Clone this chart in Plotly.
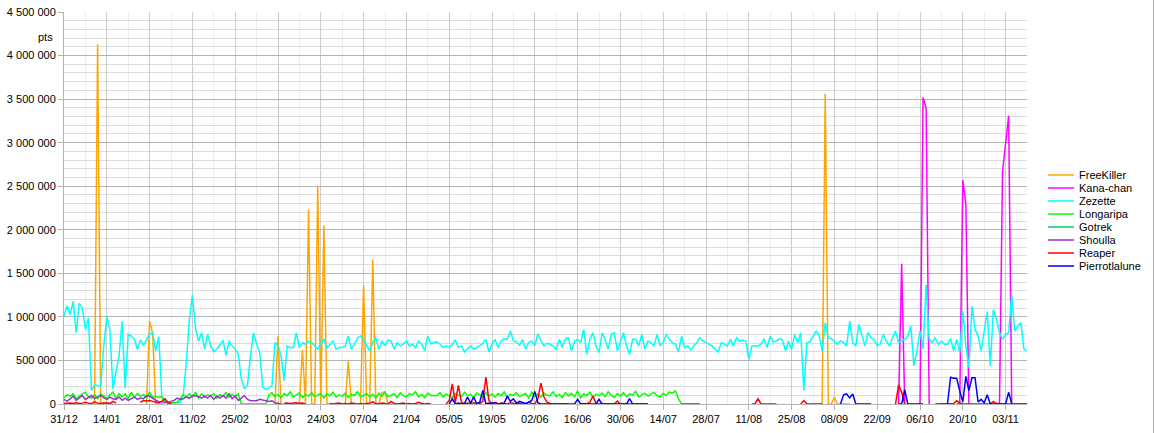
import pandas as pd
import plotly.graph_objects as go

START = "2019-12-31"
END = "2020-11-10"
dates = pd.date_range(START, END, freq="D")
N = len(dates)

SERIES_NAMES = ["FreeKiller", "Kana-chan", "Zezette", "Longaripa", "Gotrek",
                "Shoulla", "Reaper", "Pierrotlalune"]
SERIES_COLORS = ["#ffa500", "#ff00ff", "#00ffff", "#00ff00", "#00cc66",
                 "#9933cc", "#ff0000", "#0000ff"]

# values in thousands of points; (first date, daily values)
FREEKILLER = [
    ("2020-01-10", [0, 4130, 0, 10, 0, 5, 0]),
    ("2020-01-27", [0, 950, 810, 0, 0, 0, 0]),
    ("2020-03-09", [0, 780, 0, 0, 0, 0, 0, 0, 0, 620, 0, 2230, 0, 0, 2500, 0, 2050, 0,
                    0, 0, 0, 0, 0, 0, 495, 0, 0, 0, 0, 1360, 0, 0, 1660, 0, 0, 130, 140,
                    0, 0, 0, 0, 0]),
    ("2020-09-03", [0, 0, 3560, 0, 0, 80, 0, 0, 0, 0, 0]),
]
KANA_CHAN = [
    ("2020-09-29", [0, 1610, 0]),
    ("2020-10-06", [0, 3520, 3400, 0]),
    ("2020-10-19", [0, 2570, 2290, 0]),
    ("2020-11-01", [0, 2670, 2990, 3310, 0]),
]
ZEZETTE = [("2019-12-31", [
    1008, 1129, 1027, 1178, 818, 1159, 1100, 856, 989, 155, 220, 212, 205, 667, 1000, 856,
    174, 364, 553, 950, 182, 800, 780, 742, 629, 735, 674, 742, 800, 818, 610, 773, 80, 40,
    20, 20, 15, 15, 20, 100, 477, 970, 1254, 875, 723, 818, 629, 800, 667, 598, 629,
    686, 731, 561, 723, 667, 629, 572, 288, 174, 212, 553, 818, 686, 591, 193, 167, 182,
    205, 705, 667, 553, 269, 667, 648, 648, 818, 648, 705, 686, 723, 705, 667, 629, 705,
    742, 648, 686, 723, 629, 648, 648, 667, 780, 629, 686, 761, 780, 742, 667, 610, 705, 761,
    629, 723, 667, 735, 723, 629, 705, 667, 686, 723, 667, 686, 648, 723, 686, 610, 780, 690,
    705, 712, 686, 648, 667, 648, 686, 735, 648, 667, 598, 629, 667, 629, 648, 667, 697,
    742, 598, 686, 742, 648, 723, 750, 742, 837, 723, 712, 674, 742, 629, 705, 723, 667, 807,
    723, 667, 697, 686, 667, 629, 742, 648, 750, 761, 610, 723, 742, 705, 856, 572, 742,
    818, 667, 591, 818, 742, 629, 799, 818, 610, 705, 818, 667, 572, 742, 742, 667, 799,
    629, 723, 705, 667, 799, 674, 705, 799, 742, 705, 686, 598, 780, 648, 667, 621, 667, 705, 761,
    723, 705, 686, 667, 629, 598, 705, 686, 667, 742, 667, 761, 723, 735, 723, 515, 667,
    667, 667, 686, 750, 648, 780, 712, 723, 750, 735, 610, 723, 629, 799, 705, 818, 155,
    705, 712, 780, 837, 788, 610, 932, 761, 750, 723, 686, 723, 705, 667, 951, 705,
    667, 913, 780, 667, 818, 761, 742, 667, 690, 799, 723, 667, 761, 837, 705, 723, 742,
    780, 894, 439, 610, 837, 629, 1367, 742, 705, 761, 686, 723, 686, 686, 750, 610, 742,
    591, 1064, 667, 420, 1121, 856, 780, 610, 818, 1064, 439, 1083, 970, 818, 742, 799,
    818, 1250, 837, 894, 932, 629, 610])]
LONGARIPA = [("2019-12-31", [
    68, 106, 91, 117, 61, 91, 117, 136, 80, 68, 106, 61, 117, 91, 53, 106, 136, 61, 117,
    80, 117, 61, 136, 80, 117, 91, 106, 68, 136, 80, 80, 80, 80, 23, 10, 10, 15, 20, 61,
    106, 80, 117, 80, 136, 68, 117, 80, 106, 91, 117, 68, 106, 91, 130, 75, 110, 85, 117,
    0, 0, 0, 0, 0, 0, 0, 0, 0,
    100, 130, 85, 110, 70, 120, 95, 140, 80, 105, 125, 75, 110, 90, 130, 85, 100, 120, 70,
    115, 95, 135, 80, 105, 90, 125, 75, 110, 100, 140, 85, 95, 120, 80,
    110, 70, 125, 90, 135, 85, 100, 115, 75, 130, 95, 80, 120, 105, 140, 85, 110, 75, 125, 100,
    95, 100, 130, 80, 115, 90, 70, 120, 105, 85, 135, 95, 110, 75, 125, 100, 85, 130, 90, 115, 80,
    120, 95, 140, 75, 110, 100, 130, 85, 105, 120, 70, 135, 90, 115, 80, 125, 100, 95, 140,
    85, 110, 75, 130, 95, 120, 85, 150, 70, 115, 100, 135, 80, 110, 95, 125, 85, 140, 100,
    75, 120, 90, 130, 85, 115, 100, 145, 80, 105, 125, 90, 110, 135, 95, 80, 120, 100, 140,
    125, 150, 60, 0])]
GOTREK = [("2020-10-18", [0, 15, 0])]
SHOULLA = [("2019-12-31", [
    53, 30, 61, 91, 42, 68, 98, 53, 80, 98, 61, 80, 98, 72, 53, 80, 61, 53, 80, 42, 68, 42,
    61, 80, 53, 68, 61, 98, 91, 61, 42, 30, 23, 15, 15, 30, 42, 68, 53, 61, 80, 68, 91, 98,
    85, 70, 91, 68, 98, 53, 91, 68, 98, 68, 117, 61, 91, 42, 68, 98, 53, 38, 38, 38, 53, 45,
    38, 30, 38, 15, 8, 0])]
REAPER = [
    ("2019-12-31", [10, 5, 10, 5, 15, 5, 10, 20, 10, 5, 25, 10, 5, 10, 15, 5, 30, 10]),
    ("2020-01-25", [20, 40, 35, 40, 30, 20, 15, 30, 60, 20, 5]),
    ("2020-03-12", [5, 10, 5, 10, 15, 5, 10, 0]),
    ("2020-03-27", [5, 0, 5, 10, 0, 5, 0, 10, 5, 0, 5, 0, 5, 10, 25, 5, 0, 10, 5, 0, 30, 5,
                    0, 5, 10, 0, 5, 0, 5, 20, 5, 0, 5, 0]),
    ("2020-05-04", [0, 40, 230, 20, 215, 20, 0, 10, 5, 15, 0, 5, 30, 310, 40, 5, 20, 0, 10,
                    5, 0, 15, 5, 0, 10, 5, 0, 20, 5, 0, 60, 240, 80, 20, 5, 0, 0, 5, 0, 0, 0]),
    ("2020-06-17", [0, 5, 0, 20, 90, 10, 0, 5, 0, 0, 5, 0, 35, 0, 0, 5, 0, 0, 0, 5, 0, 0, 0]),
    ("2020-07-20", [0, 0, 0, 0, 0, 0, 0]),
    ("2020-08-12", [0, 0, 60, 0, 0, 0, 0, 0, 0]),
    ("2020-08-28", [0, 40, 0, 0, 0, 0, 0, 0]),
    ("2020-09-28", [0, 220, 135, 0]),
    ("2020-10-11", [0, 0, 0, 0, 0, 0, 5, 38, 10, 0, 0, 0, 5, 0, 0, 0, 5, 0, 0, 30, 5, 0, 0,
                    0, 0, 0]),
]
PIERROTLALUNE = [
    ("2020-05-05", [0, 60, 0, 10, 0, 5, 80, 10, 80, 5, 20, 155, 0, 10, 5, 15, 0, 5, 10, 90,
                    30, 60, 10, 30, 15, 5, 20, 40, 145, 15, 0, 0, 0, 0, 0, 0, 0, 0, 0, 0, 0,
                    0, 53, 0, 0, 0, 0, 0, 0, 53, 0, 0, 0, 0, 0, 0, 0, 0, 0, 61, 0, 0, 0, 0, 0, 0]),
    ("2020-09-10", [0, 105, 115, 70, 115, 0, 0, 0, 0, 0, 0]),
    ("2020-09-29", [0, 0, 165, 0, 0, 0, 0, 0, 0]),
    ("2020-10-15", [0, 307, 295, 295, 150, 23, 318, 155, 300, 300, 23, 53, 15, 106, 0, 0, 0,
                    0, 0, 0, 136, 0, 0, 0, 0, 0, 0]),
]
ALL_SERIES = [FREEKILLER, KANA_CHAN, ZEZETTE, LONGARIPA, GOTREK, SHOULLA, REAPER, PIERROTLALUNE]


def build(segments):
    arr = [None] * N
    for start, vals in segments:
        i0 = (pd.Timestamp(start) - dates[0]).days
        for k, v in enumerate(vals):
            if 0 <= i0 + k < N:
                arr[i0 + k] = v * 1000
    return arr


FONT = "Liberation Sans, Arial, sans-serif"
W, H = 1155, 433
ML, MR, MT, MB = 64, 128, 12, 29
PW, PH = W - ML - MR, H - MT - MB

fig = go.Figure()
for name, color, segs in zip(SERIES_NAMES, SERIES_COLORS, ALL_SERIES):
    fig.add_trace(go.Scatter(x=dates, y=build(segs), name=name, mode="lines",
                             line=dict(color=color, width=1.5), connectgaps=False,
                             showlegend=False))

DAY = 86400000
fig.update_xaxes(type="date", range=[dates[0], dates[-1]], tick0=START, dtick=14 * DAY,
                 tickformat="%d/%m", showgrid=True, gridcolor="#cccccc", gridwidth=1,
                 minor=dict(dtick=7 * DAY, tick0=START, showgrid=True, gridcolor="#ececec"),
                 showline=True, linecolor="#b3b3b3", ticks="outside", ticklen=5,
                 tickcolor="#b3b3b3", zeroline=False, automargin=False,
                 tickfont=dict(family=FONT, size=11, color="#000000"))
fig.update_yaxes(range=[0, 4500000], dtick=500000, tick0=0, tickformat=",d",
                 showgrid=True, gridcolor="#b3b3b3", gridwidth=1,
                 minor=dict(dtick=100000, showgrid=True, gridcolor="#dddddd"),
                 showline=True, linecolor="#b3b3b3", ticks="outside", ticklen=5,
                 tickcolor="#b3b3b3", zeroline=False, automargin=False,
                 tickfont=dict(family=FONT, size=11, color="#000000"))

annotations = [dict(text="pts", xref="paper", yref="paper", x=(55 - ML) / PW,
                    y=(H - MB - 37.5) / PH, xanchor="right", yanchor="middle",
                    showarrow=False, font=dict(family=FONT, size=11, color="#000000"))]
shapes = []
for i, (name, color) in enumerate(zip(SERIES_NAMES, SERIES_COLORS)):
    py = 175 + 13 * i
    yp = (H - MB - py) / PH
    shapes.append(dict(type="line", xref="paper", yref="paper",
                       x0=(1048 - ML) / PW, x1=(1074 - ML) / PW, y0=yp, y1=yp,
                       line=dict(color=color, width=1.5)))
    annotations.append(dict(text=name, xref="paper", yref="paper", x=(1077 - ML) / PW,
                            y=yp, xanchor="left", yanchor="middle", showarrow=False,
                            font=dict(family=FONT, size=11, color="#000000")))
# thin frame line at the right edge of the image
shapes.append(dict(type="line", xref="paper", yref="paper",
                   x0=(W - 1.5 - ML) / PW, x1=(W - 1.5 - ML) / PW,
                   y0=-MB / PH, y1=(H - MB) / PH,
                   line=dict(color="#b3b3b3", width=1)))

fig.update_layout(width=W, height=H, margin=dict(l=ML, r=MR, t=MT, b=MB),
                  paper_bgcolor="white", plot_bgcolor="white", separators=". ",
                  showlegend=False, annotations=annotations, shapes=shapes,
                  hovermode=False,
                  font=dict(family=FONT, size=11, color="#000000"))
fig.write_html("out.html", config={"displayModeBar": False},
               post_script="document.body.style.margin='0';document.body.style.overflow='hidden';")
